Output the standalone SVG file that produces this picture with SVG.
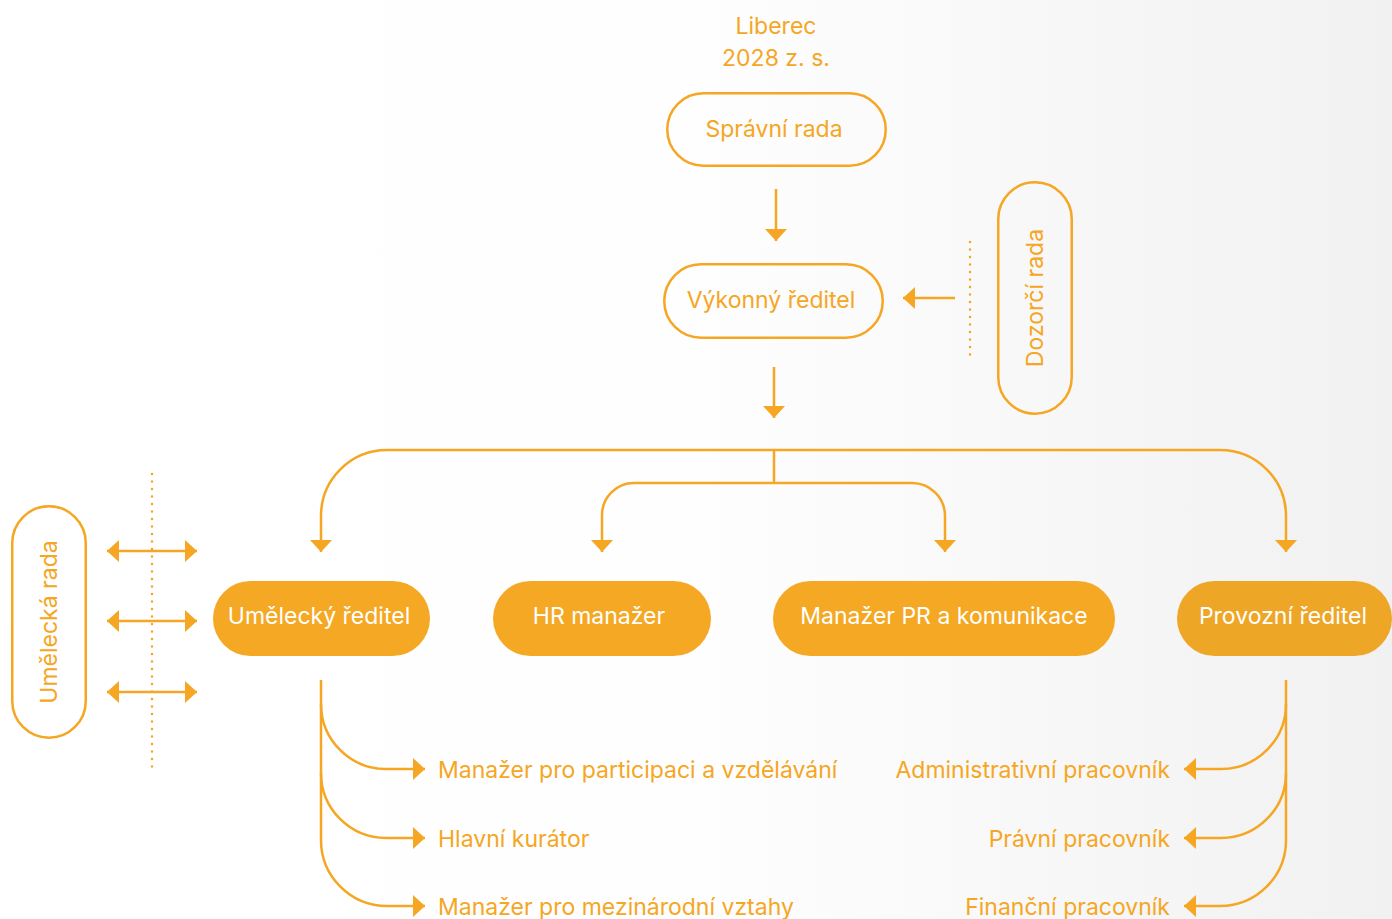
<svg xmlns="http://www.w3.org/2000/svg" width="1392" height="919" viewBox="0 0 1392 919">
<defs>
<linearGradient id="bg" x1="0" y1="0" x2="1" y2="0">
<stop offset="0" stop-color="#ffffff"/>
<stop offset="0.5" stop-color="#fefefe"/>
<stop offset="1" stop-color="#f1f1f1"/>
</linearGradient>
<marker id="ah" viewBox="0 0 12 22" refX="12" refY="11" markerWidth="12" markerHeight="22" markerUnits="userSpaceOnUse" orient="auto-start-reverse">
<path d="M0,0 L12,11 L0,22 Z" fill="#f5a623"/>
</marker>
<style>
.ln{fill:none;stroke:#f5a623;stroke-width:2.5}
.dot{fill:none;stroke:#f5a623;stroke-width:2.5;stroke-dasharray:0.1 7.4;stroke-linecap:round}
.ob{fill:none;stroke:#f5a623;stroke-width:2.5}
.fb{fill:#f5a823}
.t{font-family:Inter,"Noto Sans","Liberation Sans",sans-serif;font-size:23px;fill:#f5a623}
.w{font-family:Inter,"Noto Sans","Liberation Sans",sans-serif;font-size:23px;fill:#ffffff}
</style>
</defs>
<rect x="0" y="0" width="1392" height="919" fill="url(#bg)"/>

<g id="title">
<text class="t" x="776" y="34" text-anchor="middle">Liberec</text>
<text class="t" x="776" y="66" text-anchor="middle">2028 z. s.</text>
</g>

<g id="spravni-rada">
<rect class="ob" x="667.25" y="93.25" width="218.5" height="72.5" rx="36.25"/>
<text class="t" x="774" y="137" text-anchor="middle">Správní rada</text>
</g>

<g id="vykonny-reditel">
<rect class="ob" x="664.25" y="264.25" width="218.5" height="73.5" rx="36.75"/>
<text class="t" x="771" y="308" text-anchor="middle">Výkonný ředitel</text>
</g>

<g id="dozorci-rada">
<rect class="ob" x="998.25" y="182.25" width="73.5" height="231.5" rx="36.75"/>
<text class="t" transform="translate(1043,298) rotate(-90)" text-anchor="middle">Dozorčí rada</text>
</g>

<g id="umelecka-rada">
<rect class="ob" x="12.25" y="506.25" width="73.5" height="231.5" rx="36.75"/>
<text class="t" transform="translate(57,622) rotate(-90)" text-anchor="middle">Umělecká rada</text>
</g>

<g id="umelecky-reditel">
<rect class="fb" x="213" y="581" width="217" height="75" rx="37.5"/>
<text class="w" x="319" y="624" text-anchor="middle">Umělecký ředitel</text>
</g>

<g id="hr-manazer">
<rect class="fb" x="493" y="581" width="218" height="75" rx="37.5"/>
<text class="w" x="599" y="624" text-anchor="middle">HR manažer</text>
</g>

<g id="pr-manazer">
<rect class="fb" x="773" y="581" width="342" height="75" rx="37.5"/>
<text class="w" x="944" y="624" text-anchor="middle">Manažer PR a komunikace</text>
</g>

<g id="provozni-reditel">
<rect x="1177" y="581" width="215" height="75" rx="37.5" fill="#eea626"/>
<text class="w" x="1283" y="624" text-anchor="middle">Provozní ředitel</text>
</g>

<g id="sub-left">
<text class="t" x="438" y="778">Manažer pro participaci a vzdělávání</text>
<text class="t" x="438" y="847">Hlavní kurátor</text>
<text class="t" x="438" y="915">Manažer pro mezinárodní vztahy</text>
</g>

<g id="sub-right">
<text class="t" x="1170" y="778" text-anchor="end">Administrativní pracovník</text>
<text class="t" x="1170" y="847" text-anchor="end">Právní pracovník</text>
<text class="t" x="1170" y="915" text-anchor="end">Finanční pracovník</text>
</g>

<g id="connectors">
<path class="ln" d="M776,189 V241" marker-end="url(#ah)"/>
<path class="ln" d="M774,367 V418" marker-end="url(#ah)"/>
<path class="ln" d="M955,298 H903" marker-end="url(#ah)"/>
<path class="dot" d="M970,242 V357"/>

<path class="ln" d="M387,450 H1220 A66,66 0 0 1 1286,516 V552" marker-end="url(#ah)"/>
<path class="ln" d="M387,450 A66,66 0 0 0 321,516 V552" marker-end="url(#ah)"/>
<path class="ln" d="M774,450 V483"/>
<path class="ln" d="M634,483 H912 A33,33 0 0 1 945,516 V552" marker-end="url(#ah)"/>
<path class="ln" d="M634,483 A32,32 0 0 0 602,515 V552" marker-end="url(#ah)"/>

<path class="dot" d="M152,474 V770"/>
<path class="ln" d="M107,551 H197" marker-start="url(#ah)" marker-end="url(#ah)"/>
<path class="ln" d="M107,621 H197" marker-start="url(#ah)" marker-end="url(#ah)"/>
<path class="ln" d="M107,692 H197" marker-start="url(#ah)" marker-end="url(#ah)"/>

<path class="ln" d="M321,680 V840 A66,66 0 0 0 387,906 H425" marker-end="url(#ah)"/>
<path class="ln" d="M321,704 A65,65 0 0 0 386,769 H425" marker-end="url(#ah)"/>
<path class="ln" d="M321,773 A65,65 0 0 0 386,838 H425" marker-end="url(#ah)"/>

<path class="ln" d="M1286,680 V840 A66,66 0 0 1 1220,906 H1184" marker-end="url(#ah)"/>
<path class="ln" d="M1286,704 A65,65 0 0 1 1221,769 H1184" marker-end="url(#ah)"/>
<path class="ln" d="M1286,773 A65,65 0 0 1 1221,838 H1184" marker-end="url(#ah)"/>
</g>
</svg>
